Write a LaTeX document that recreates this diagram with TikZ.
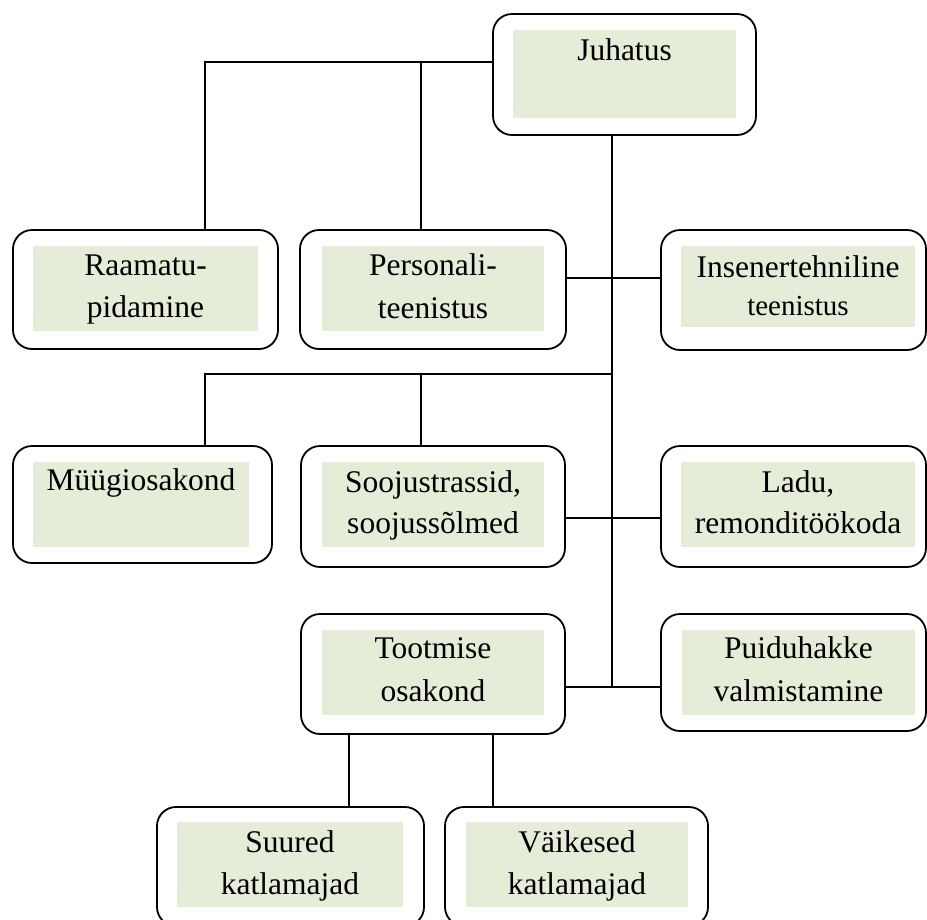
\documentclass[tikz,border=0pt]{standalone}
\usepackage{fontspec}
\setmainfont{Liberation Serif}
\definecolor{boxgreen}{RGB}{229,236,215}
\tikzset{
  outerbox/.style={draw=black, line width=1.8pt, rounded corners=19pt, fill=white, inner sep=0pt},
  innerbox/.style={fill=boxgreen, draw=none, inner sep=0pt},
  lbl/.style={anchor=base, inner sep=0pt, font=\fontsize{31.5}{38}\selectfont},
  conn/.style={draw=black, line width=1.6pt},
}
% name, x1, y1, x2, y2, ix1, iy1, ix2, iy2
\newcommand\orgbox[9]{%
  \node[outerbox, minimum width={#4-#2}, minimum height={#5-#3}] (#1) at ({(#2+#4)/2},{(#3+#5)/2}) {};
  \node[innerbox, minimum width={#8-#6}, minimum height={#9-#7}] (#1-in) at ({(#6+#8)/2},{(#7+#9)/2}) {};
}
\begin{document}
\begin{tikzpicture}[x=1pt,y=-1pt]
\useasboundingbox (0,0) rectangle (927,919);

% boxes
\orgbox{juh}{493}{14}{756}{135}{513}{30}{736}{118}
\orgbox{raam}{13}{230}{278}{349}{33}{246}{258}{331}
\orgbox{pers}{300}{230}{566}{349}{322}{246}{544}{331}
\orgbox{ins}{661}{230}{926}{350}{681}{246}{915}{327}
\orgbox{muu}{13}{446}{272}{563}{33}{462}{249}{547}
\orgbox{sooj}{301}{446}{565}{567}{322}{462}{544}{547}
\orgbox{ladu}{661}{446}{926}{567}{681}{462}{915}{547}
\orgbox{toot}{301}{614}{565}{734}{322}{630}{544}{715}
\orgbox{puid}{661}{614}{926}{731}{682}{630}{915}{715}
\orgbox{suur}{157}{807}{424}{926}{177}{822}{403}{907}
\orgbox{vaik}{445}{807}{708}{926}{466}{822}{688}{907}

% labels
\node[lbl] (juh-t1) at (624.5,60) {Juhatus};
\node[lbl] (raam-t1) at (145.5,275) {Raamatu-};
\node[lbl] (raam-t2) at (145.5,317) {pidamine};
\node[lbl] (pers-t1) at (433,275) {Personali-};
\node[lbl] (pers-t2) at (433,318) {teenistus};
\node[lbl] (ins-t1) at (798,277) {Insenertehniline};
\node[lbl, font=\fontsize{29}{34}\selectfont] (ins-t2) at (798,315) {teenistus};
\node[lbl] (muu-t1) at (141,490) {Müügiosakond};
\node[lbl] (sooj-t1) at (433,492) {Soojustrassid,};
\node[lbl] (sooj-t2) at (433,533) {soojussõlmed};
\node[lbl] (ladu-t1) at (798,492) {Ladu,};
\node[lbl] (ladu-t2) at (798,533) {remonditöökoda};
\node[lbl] (toot-t1) at (433,658) {Tootmise};
\node[lbl] (toot-t2) at (433,701) {osakond};
\node[lbl] (puid-t1) at (798.5,658) {Puiduhakke};
\node[lbl] (puid-t2) at (798.5,701) {valmistamine};
\node[lbl] (suur-t1) at (290,852) {Suured};
\node[lbl] (suur-t2) at (290,894) {katlamajad};
\node[lbl] (vaik-t1) at (577,852) {Väikesed};
\node[lbl] (vaik-t2) at (577,894) {katlamajad};

% connector positions
\coordinate (c1) at (205,62);
\coordinate (c2) at (421,62);
\coordinate (m) at (612,0);
\coordinate (mend) at (612,687);
\coordinate (h1) at (612,278);
\coordinate (c3) at (205,374);
\coordinate (c4) at (421,374);
\coordinate (h2) at (612,518);
\coordinate (c5) at (349,0);
\coordinate (c6) at (493,0);

% connectors
\draw[conn] (juh.west |- c1) -- (c1) -- (c1 |- raam.north);
\draw[conn] (c2) -- (c2 |- pers.north);
\draw[conn] (m |- juh.south) -- (mend);
\draw[conn] (pers.east |- h1) -- (ins.west |- h1);
\draw[conn] (m |- c3) -- (c3) -- (c3 |- muu.north);
\draw[conn] (c4) -- (c4 |- sooj.north);
\draw[conn] (sooj.east |- h2) -- (ladu.west |- h2);
\draw[conn] (toot.east |- mend) -- (puid.west |- mend);
\draw[conn] (c5 |- toot.south) -- (c5 |- suur.north);
\draw[conn] (c6 |- toot.south) -- (c6 |- vaik.north);
\end{tikzpicture}
\end{document}
